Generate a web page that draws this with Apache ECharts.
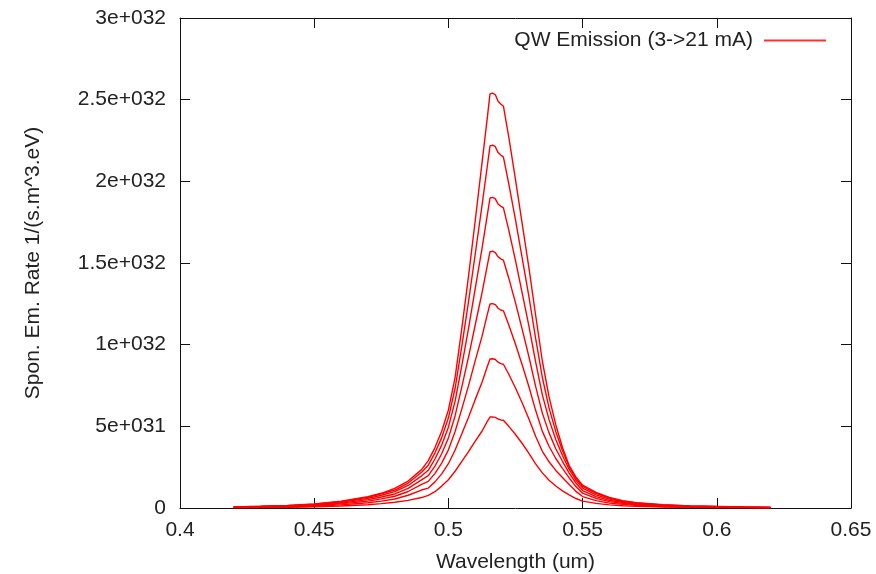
<!DOCTYPE html>
<html>
<head>
<meta charset="utf-8">
<script src="https://cdn.jsdelivr.net/npm/echarts@6/dist/echarts.min.js"></script>
<style>
html,body{margin:0;padding:0;background:#fff;}
#chart{width:876px;height:574px;}
</style>
</head>
<body>
<div id="chart"></div>
<script>
// Wavelength samples (um)
const wavelength = [0.42,0.43,0.44,0.45,0.46,0.47,0.475,0.48,0.485,0.49,0.4925,0.495,0.4975,0.5,0.5025,0.505,0.5075,0.51,0.5125,0.5145,0.5155,0.5165,0.5175,0.5185,0.5195,0.5205,0.5225,0.525,0.5275,0.53,0.5325,0.535,0.5375,0.54,0.5425,0.545,0.5475,0.55,0.555,0.56,0.565,0.57,0.58,0.59,0.6,0.61,0.62];
// Spontaneous emission rate, in units of 1e32 1/(s.m^3.eV), one array per current step
const em3mA  = [0.002,0.003,0.004,0.007,0.012,0.020,0.027,0.035,0.047,0.064,0.077,0.100,0.134,0.173,0.225,0.285,0.345,0.410,0.470,0.530,0.557,0.558,0.555,0.545,0.539,0.537,0.500,0.450,0.395,0.335,0.270,0.215,0.170,0.135,0.105,0.080,0.058,0.042,0.028,0.019,0.014,0.010,0.006,0.004,0.003,0.002,0.001];
const em6mA  = [0.003,0.005,0.006,0.011,0.019,0.032,0.042,0.055,0.078,0.110,0.122,0.160,0.209,0.271,0.355,0.455,0.556,0.665,0.768,0.866,0.912,0.914,0.909,0.893,0.884,0.880,0.819,0.735,0.643,0.545,0.439,0.347,0.283,0.230,0.187,0.144,0.102,0.070,0.045,0.030,0.022,0.016,0.009,0.006,0.005,0.003,0.002];
const em9mA  = [0.004,0.006,0.009,0.015,0.025,0.042,0.056,0.072,0.101,0.145,0.163,0.212,0.275,0.356,0.468,0.607,0.749,0.902,1.049,1.185,1.249,1.251,1.245,1.223,1.212,1.207,1.120,1.003,0.876,0.742,0.598,0.469,0.378,0.303,0.243,0.184,0.131,0.091,0.059,0.039,0.028,0.020,0.012,0.008,0.006,0.004,0.002];
const em12mA = [0.005,0.008,0.011,0.018,0.030,0.051,0.067,0.086,0.120,0.172,0.198,0.256,0.332,0.428,0.565,0.742,0.925,1.122,1.315,1.486,1.569,1.572,1.564,1.538,1.525,1.517,1.407,1.256,1.094,0.926,0.745,0.581,0.460,0.363,0.286,0.214,0.153,0.107,0.070,0.047,0.034,0.024,0.015,0.010,0.007,0.005,0.003];
const em15mA = [0.006,0.009,0.013,0.020,0.035,0.059,0.078,0.100,0.138,0.197,0.231,0.300,0.385,0.495,0.654,0.872,1.100,1.344,1.587,1.795,1.898,1.902,1.893,1.861,1.848,1.837,1.701,1.515,1.316,1.114,0.895,0.693,0.541,0.420,0.321,0.236,0.170,0.122,0.080,0.054,0.038,0.028,0.017,0.011,0.008,0.005,0.003];
const em18mA = [0.006,0.010,0.014,0.023,0.039,0.066,0.087,0.110,0.153,0.219,0.262,0.338,0.431,0.552,0.733,0.991,1.264,1.555,1.850,2.094,2.217,2.221,2.212,2.176,2.161,2.148,1.985,1.764,1.530,1.294,1.038,0.799,0.613,0.469,0.350,0.253,0.183,0.133,0.089,0.060,0.042,0.031,0.019,0.012,0.009,0.006,0.004];
const em21mA = [0.007,0.011,0.016,0.025,0.042,0.070,0.090,0.120,0.165,0.235,0.290,0.370,0.470,0.600,0.800,1.100,1.420,1.760,2.110,2.390,2.535,2.540,2.530,2.490,2.474,2.460,2.270,2.010,1.740,1.470,1.180,0.900,0.680,0.510,0.370,0.260,0.190,0.140,0.095,0.065,0.045,0.033,0.020,0.013,0.009,0.006,0.004];

const seriesArrays = [em3mA, em6mA, em9mA, em12mA, em15mA, em18mA, em21mA];
const seriesName = 'QW Emission (3->21 mA)';
const xTickLabels = ['0.4','0.45','0.5','0.55','0.6','0.65'];
const yTickLabels = ['0','5e+031','1e+032','1.5e+032','2e+032','2.5e+032','3e+032'];
const xTitle = 'Wavelength (um)';
const yTitle = 'Spon. Em. Rate 1/(s.m^3.eV)';

const FONT = "'Liberation Sans', Arial, sans-serif";
const TXT = '#222';
const AX = '#111';

const chart = echarts.init(document.getElementById('chart'), null, {renderer: 'canvas'});

const baseAxis = {
  axisLine: {show: true, onZero: false, lineStyle: {color: AX, width: 1}},
  axisTick: {show: true, inside: true, length: 10, lineStyle: {color: AX, width: 1}},
  splitLine: {show: false},
  minorTick: {show: false}
};

const option = {
  backgroundColor: '#fff',
  animation: false,
  grid: {left: 180, right: 25, top: 18, bottom: 66, show: false, containLabel: false, outerBoundsMode: 'none'},
  legend: {
    show: true,
    right: 50,
    top: 30,
    padding: 0,
    align: 'right',
    itemWidth: 62,
    itemHeight: 2,
    icon: 'rect',
    itemStyle: {color: '#ff3030'},
    textStyle: {fontFamily: FONT, fontSize: 21, color: TXT, padding: [0, 6, 0, 0]},
    data: [seriesName]
  },
  xAxis: [
    Object.assign({}, baseAxis, {
      type: 'value', min: 0.4, max: 0.65, interval: 0.05, position: 'bottom',
      axisLabel: {show: true, margin: 12, fontFamily: FONT, fontSize: 21, color: TXT,
        formatter: v => xTickLabels[Math.round((v - 0.4) / 0.05)]},
      name: xTitle, nameLocation: 'middle', nameGap: 44,
      nameTextStyle: {fontFamily: FONT, fontSize: 21, color: TXT}
    }),
    Object.assign({}, baseAxis, {
      type: 'value', min: 0.4, max: 0.65, interval: 0.05, position: 'top',
      axisLabel: {show: false}
    })
  ],
  yAxis: [
    Object.assign({}, baseAxis, {
      type: 'value', min: 0, max: 3, interval: 0.5, position: 'left',
      axisLabel: {show: true, margin: 14, fontFamily: FONT, fontSize: 21, color: TXT,
        formatter: v => yTickLabels[Math.round(v / 0.5)]},
      name: yTitle, nameLocation: 'middle', nameGap: 136, nameRotate: 90,
      nameTextStyle: {fontFamily: FONT, fontSize: 21, color: TXT}
    }),
    Object.assign({}, baseAxis, {
      type: 'value', min: 0, max: 3, interval: 0.5, position: 'right',
      axisLabel: {show: false}
    })
  ],
  series: seriesArrays.map(arr => ({
    name: seriesName,
    type: 'line',
    xAxisIndex: 0,
    yAxisIndex: 0,
    showSymbol: false,
    symbol: 'none',
    smooth: false,
    lineStyle: {color: '#ff0000', width: 1.4},
    itemStyle: {color: '#ff0000'},
    emphasis: {disabled: true},
    data: wavelength.map((w, i) => [w, arr[i]])
  }))
};

chart.setOption(option);
</script>
</body>
</html>
